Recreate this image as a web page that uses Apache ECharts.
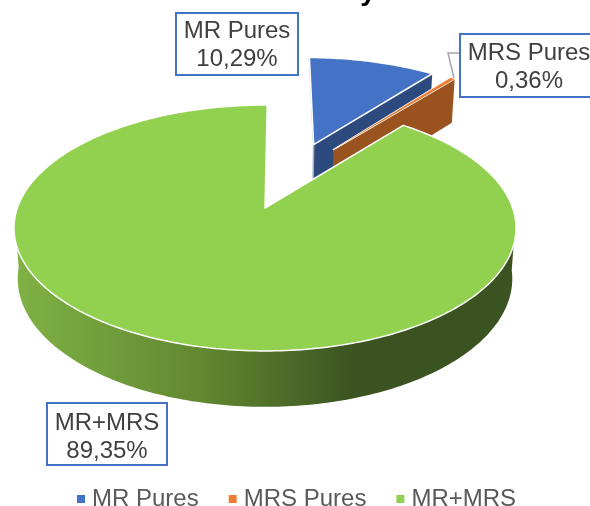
<!DOCTYPE html>
<html>
<head>
<meta charset="utf-8">
<style>
  html, body { margin: 0; padding: 0; background: #fff; }
  #main { width: 590px; height: 506px; overflow: hidden; }
</style>
<script src="https://cdn.jsdelivr.net/npm/echarts@6/dist/echarts.min.js"></script>
</head>
<body>
<div id="main"></div>
<script>
var categories = ['MR Pures', 'MRS Pures', 'MR+MRS'];
var values = [10.29, 0.36, 89.35];

var topColors = ['#4472c4', '#ed7d31', '#92d050'];
var faceColors = ['#2c4a7e', '#9a521e', '#3b5320'];
// how far each slice is pulled out of the pie, in radius units
var pulled = [[0.215, 0.58], [0.3, 0.53], [0, 0]];

// ellipse seen in perspective
var cx = 265, cy = 208, A = 247.7, B = 119.7, k = 0.1626, D = 49.8;
var rotation = 0.6;

var total = values.reduce(function (a, b) { return a + b; }, 0);
var starts = [];
var sum = 0;
values.forEach(function (v) {
  starts.push(sum / total * 360);
  sum += v;
});

function project(u, v, drop) {
  var w = 1 + k * v;
  var s = drop ? 0.985 : 1;
  var d = drop ? D / Math.pow(w, 0.65) : 0;
  return [cx + A * u / w * s, cy - B * v / w + d];
}

function rimPoint(i, deg, drop) {
  var t = (deg + rotation) * Math.PI / 180;
  return project(pulled[i][0] + Math.sin(t), pulled[i][1] + Math.cos(t), drop);
}

function renderSlice(params, api) {
  var i = params.seriesIndex;
  var start = starts[i];
  var end = start + api.value(0) / total * 360;
  var apex = project(pulled[i][0], pulled[i][1], false);
  var apexLow = project(pulled[i][0], pulled[i][1], true);
  var children = [];

  // front wall, only the part of the rim that faces the viewer
  var from = Math.max(start, 95), to = Math.min(end, 265);
  if (to > from) {
    var wall = [];
    for (var a = from; a <= to; a += 1) wall.push(rimPoint(i, a, false));
    for (var b = to; b >= from; b -= 1) wall.push(rimPoint(i, b, true));
    children.push({
      type: 'polygon',
      shape: { points: wall },
      style: {
        fill: new echarts.graphic.LinearGradient(0, 0, 1, 0, [
          { offset: 0, color: '#80b245' },
          { offset: 0.38, color: '#618731' },
          { offset: 0.68, color: faceColors[i] },
          { offset: 1, color: faceColors[i] }
        ])
      }
    });
  }

  // cut face at the end angle, the small slices show it
  if (i < 2) {
    children.push({
      type: 'polygon',
      shape: { points: [apex, rimPoint(i, end, false), rimPoint(i, end, true), apexLow] },
      style: { fill: faceColors[i] }
    });
  }
  // the start face of the blue slice is nearly edge on, just a grey sliver
  if (i === 0) {
    children.push({
      type: 'polyline',
      shape: { points: [rimPoint(i, start, false), apex, apexLow] },
      style: { stroke: '#a3adbd', lineWidth: 1.5, fill: null }
    });
  }

  var top = [apex];
  for (var c = start; c < end; c += 1) top.push(rimPoint(i, c, false));
  top.push(rimPoint(i, end, false));
  if (i === 1) {
    // the slice is so thin that its white outline shows along most of it
    children.push({
      type: 'polygon',
      shape: { points: top },
      style: { fill: '#fff', stroke: '#fff', lineWidth: 1.6, lineJoin: 'round' }
    });
  }
  children.push({
    type: 'polygon',
    shape: { points: top },
    style: i === 1
      ? { fill: topColors[i] }
      : { fill: topColors[i], stroke: '#fff', lineWidth: 1.5, lineJoin: 'round' }
  });

  return { type: 'group', children: children };
}

function labelText(i) {
  return categories[i] + '\n' + values[i].toFixed(2).replace('.', ',') + '%';
}

function labelBox(i, x, y, width, height, textX, textY) {
  return [{
    type: 'rect',
    shape: { x: x, y: y, width: width, height: height },
    style: { fill: '#fff', stroke: '#4472c4', lineWidth: 2 },
    z: 10
  }, {
    type: 'text',
    x: textX,
    y: textY,
    style: {
      text: labelText(i),
      fill: '#404040',
      font: '24px "Liberation Sans"',
      lineHeight: 28,
      align: 'center',
      verticalAlign: 'middle'
    },
    z: 11
  }];
}

var chart = echarts.init(document.getElementById('main'), null, { renderer: 'canvas' });

chart.setOption({
  animation: false,
  color: topColors,
  legend: {
    data: categories,
    left: 72,
    top: 482,
    icon: 'rect',
    itemWidth: 8,
    itemHeight: 8,
    itemGap: 30,
    selectedMode: false,
    textStyle: { fontFamily: 'Liberation Sans', fontSize: 24, color: '#595959', padding: [0, 0, 0, 2] }
  },
  series: categories.map(function (name, i) {
    return {
      type: 'custom',
      name: name,
      coordinateSystem: 'none',
      silent: true,
      itemStyle: { color: topColors[i] },
      renderItem: renderSlice,
      data: [[values[i]]]
    };
  }),
  graphic: [{
    type: 'polyline',
    shape: { points: [[459, 53], [448, 53], [454, 78]] },
    style: { stroke: '#a6a6a6', lineWidth: 1.5, fill: null },
    z: 9
  }].concat(
    labelBox(0, 176, 13, 122, 62, 237, 45.5),
    labelBox(1, 460, 34, 140, 63, 529, 67.5),
    labelBox(2, 47, 403, 120, 62, 107, 437.5),
    [{
      // only the bottom of the title is left on the picture
      type: 'text',
      x: 368,
      y: -22,
      style: { text: 'y', fill: '#000', font: 'bold 28px "Liberation Sans"', align: 'center' }
    }]
  )
});
</script>
</body>
</html>
